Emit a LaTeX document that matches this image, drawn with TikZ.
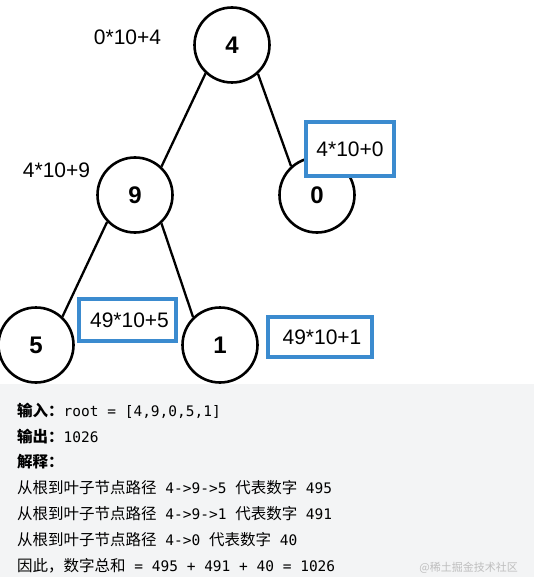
\documentclass[tikz,border=0pt]{standalone}
\usepackage{fontspec}
\setmainfont{Liberation Sans}
\setmonofont{DejaVu Sans Mono}
\newfontfamily\cjk{Noto Sans CJK SC}
\definecolor{boxblue}{RGB}{59,139,207}
\definecolor{panel}{RGB}{243,244,245}
\definecolor{wmark}{RGB}{190,190,190}
\newcommand{\cj}[1]{{\cjk\fontsize{15.5}{18}\selectfont #1}}
\newcommand{\cjb}[1]{{\cjk\bfseries\fontsize{15.5}{18}\selectfont #1}}
\newcommand{\mo}[1]{{\ttfamily\fontsize{14.5}{18}\selectfont #1}}
\begin{document}
\begin{tikzpicture}[x=1pt,y=-1pt,
  tnode/.style={circle,draw=black,line width=2.6pt,fill=white,minimum size=75pt,inner sep=0pt,font=\fontsize{24}{28}\selectfont\bfseries},
  tedge/.style={line width=2.3pt,draw=black},
  formula/.style={inner sep=0pt,font=\fontsize{21}{24}\selectfont},
  bluebox/.style={draw=boxblue,line width=3.2pt,fill=white,inner sep=0pt,font=\fontsize{21}{24}\selectfont},
  line/.style={anchor=base west,inner sep=0pt}]
\useasboundingbox (0,0) rectangle (534,577);
\fill[white] (0,0) rectangle (534,577);
\fill[panel] (0,384) rectangle (534,577);
% tree
\node[tnode] (n4) at (232,45) {4};
\node[tnode] (n9) at (135,195) {9};
\node[tnode] (n0) at (317,195) {0};
\node[tnode] (n5) at (36,345) {5};
\node[tnode] (n1) at (220,345) {1};
\draw[tedge] (n4.227) -- (n9.47);
\draw[tedge] (n4.312) -- (n0.132);
\draw[tedge] (n9.224) -- (n5.47);
\draw[tedge] (n9.313) -- (n1.134);
% formulas
\node[formula] (f4) at (127.5,37) {0*10+4};
\node[formula] (f9) at (56.5,170) {4*10+9};
\node[bluebox,minimum width=88pt,minimum height=54pt] (f0) at (350,149) {4*10+0\hspace{5pt}};
\node[bluebox,minimum width=97pt,minimum height=42pt] (f5) at (127.5,320) {\raisebox{-3pt}{\hspace{4pt}49*10+5}};
\node[bluebox,minimum width=104pt,minimum height=40pt] (f1) at (320,337) {\raisebox{-3pt}{\hspace{4pt}49*10+1}};
% explanation
\node[line] (l1) at (17,416) {\cjb{输入：}\mo{root = [4,9,0,5,1]}};
\node[line] (l2) at (17,442) {\cjb{输出：}\mo{1026}};
\node[line] (l3) at (17,467) {\cjb{解释：}};
\node[line] (l4) at (17,493) {\cj{从根到叶子节点路径}\mo{ 4->9->5 }\cj{代表数字}\mo{ 495}};
\node[line] (l5) at (17,519) {\cj{从根到叶子节点路径}\mo{ 4->9->1 }\cj{代表数字}\mo{ 491}};
\node[line] (l6) at (17,545) {\cj{从根到叶子节点路径}\mo{ 4->0 }\cj{代表数字}\mo{ 40}};
\node[line] (l7) at (17,571) {\cj{因此，数字总和}\mo{ = 495 + 491 + 40 = 1026}};
\node[anchor=base east,inner sep=0pt,text=wmark] (wm) at (518,571) {{\cjk\fontsize{11}{13}\selectfont @稀土掘金技术社区}};
\end{tikzpicture}
\end{document}
